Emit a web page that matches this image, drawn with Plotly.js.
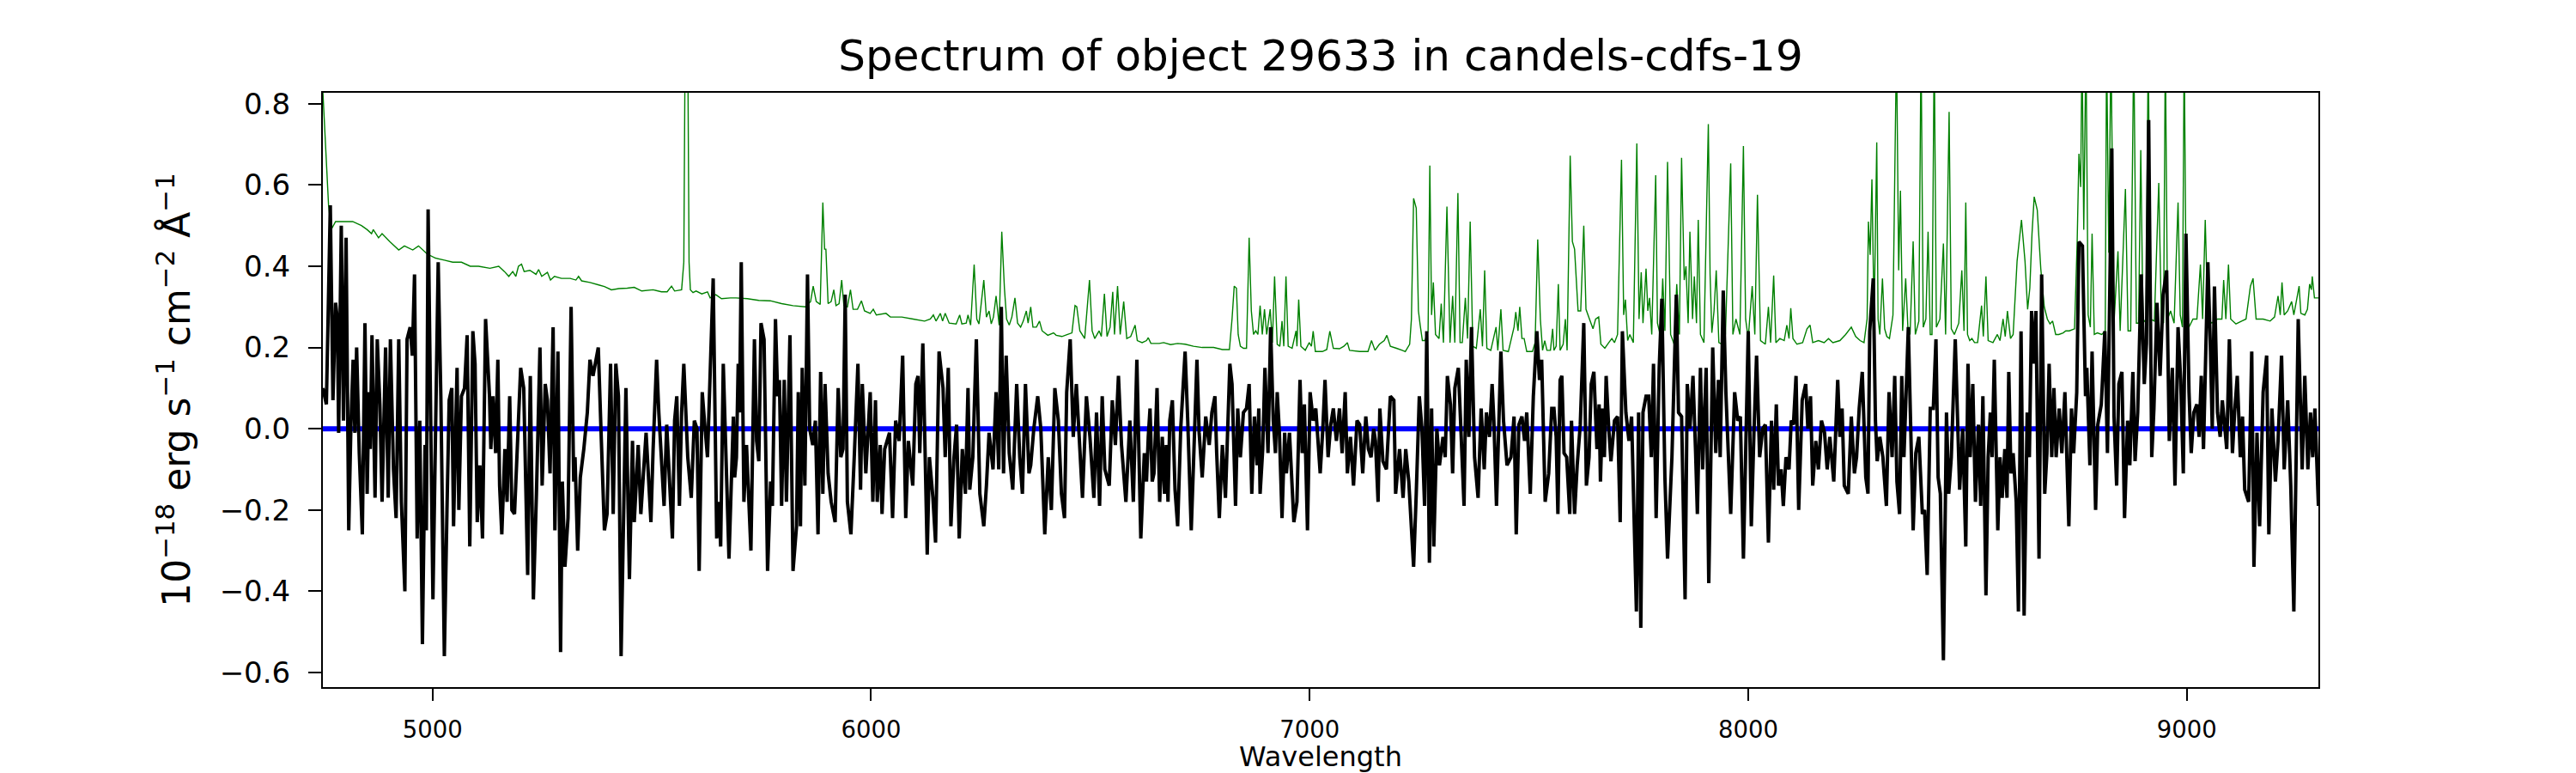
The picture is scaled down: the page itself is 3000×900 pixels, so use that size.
<!DOCTYPE html>
<html>
<head>
<meta charset="utf-8">
<script src="https://cdn.plot.ly/plotly-3.0.1.min.js"></script>
<style>html,body{margin:0;padding:0;background:#fff;}#chart{width:3000px;height:900px;}</style>
</head>
<body>
<div id="chart"></div>
<script>
// ---- Data: [wavelength (Å), flux (1e-18 erg/s/cm2/Å)] ----
const fluxSegA = [[4750,0.10],[4758,0.06],[4767,0.55],[4773,0.07],[4779,0.31],[4783,0.27],[4786,-0.01],[4792,0.50],[4797,0.02],[4803,0.47],[4809,-0.25],[4814,0.01],[4819,0.17],[4823,-0.01],[4827,0.20],[4833,-0.06],[4840,-0.26],[4846,0.26],[4851,-0.16],[4855,0.09],[4858,-0.05],[4862,0.23],[4869,-0.17],[4874,0.22],[4880,0.06],[4885,-0.18],[4893,0.20],[4899,-0.17],[4904,0.22],[4911,-0.10],[4917,-0.22],[4923,0.22],[4929,-0.18],[4937,-0.40],[4942,0.22],[4949,0.25],[4954,0.18],[4959,0.38],[4965,-0.27],[4971,0.02],[4977,-0.53],[4983,-0.04],[4986,-0.25],[4990,0.54],[5001,-0.42],[5013,0.41],[5019,0.08],[5027,-0.56],[5033,-0.20],[5038,0.07],[5044,0.10],[5048,-0.24],[5056,0.15],[5060,-0.20],[5066,0.08],[5073,0.10],[5079,0.23],[5085,-0.29],[5092,0.24],[5097,0.16],[5102,-0.23],[5108,-0.09],[5114,-0.27],[5121,0.27],[5130,0.08],[5133,-0.05],[5138,0.08],[5144,-0.06],[5149,0.17],[5153,-0.14],[5158,-0.26],[5165,-0.05],[5170,-0.18],[5176,0.08],[5181,-0.20],[5187,-0.21],[5201,0.15],[5208,0.10],[5217,-0.36],[5223,0.13],[5230,-0.42],[5237,-0.16],[5245,0.20],[5250,-0.14],[5257,0.11],[5262,0.07],[5268,-0.11],[5275,0.25],[5279,-0.25],[5286,0.19],[5292,-0.55],[5296,-0.13],[5302,-0.34],[5309,-0.22],[5316,0.30],[5322,-0.13],[5325,-0.07],[5331,-0.30],[5337,-0.12],[5345,-0.05],[5353,0.04],[5359,0.17],[5366,0.13],[5378,0.20],[5385,-0.03],[5392,-0.25],[5398,-0.21],[5406,0.16],[5412,-0.21],[5418,0.16],[5424,0.08],[5430,-0.56],[5441,0.10],[5449,-0.37],[5456,-0.03],[5460,-0.23],[5469,-0.04],[5475,-0.21],[5487,-0.01],[5498,-0.23],[5503,-0.05],[5511,0.17],[5516,0.04],[5528,-0.19],[5534,0.01],[5547,-0.27],[5552,0.02],[5557,0.08],[5563,-0.19],[5568,0.04],[5573,0.16],[5582,-0.07],[5590,-0.17],[5597,0.02],[5603,0.00],[5608,-0.35],[5615,0.09],[5620,0.02],[5627,-0.07],[5640,0.37],[5648,-0.27],[5653,-0.18],[5657,-0.29],[5663,0.16],[5676,-0.32]];
const fluxSegB = [[5686,0.03],[5689,-0.12],[5693,-0.07],[5697,0.16],[5700,0.04],[5704,0.41],[5710,-0.18],[5716,-0.04],[5726,-0.30],[5734,0.22],[5739,-0.03],[5744,-0.08],[5749,0.26],[5756,0.22],[5764,-0.35],[5771,-0.13],[5775,-0.19],[5782,0.27],[5787,0.08],[5791,0.12],[5796,-0.19],[5802,0.12],[5807,-0.18],[5815,0.23],[5822,-0.35],[5830,-0.24],[5834,0.09],[5839,-0.24],[5843,0.15],[5849,-0.14],[5855,0.38],[5860,0.00],[5867,-0.04],[5873,0.02],[5879,-0.26],[5885,0.14],[5890,-0.16],[5895,0.11],[5902,-0.11],[5909,-0.18],[5918,-0.23],[5925,0.10],[5931,-0.07],[5936,-0.05],[5941,0.33],[5946,-0.18],[5954,-0.26],[5962,-0.06],[5970,0.16],[5976,-0.15],[5980,0.11],[5988,-0.11],[5998,0.09],[6004,-0.18],[6010,0.07],[6014,-0.18],[6021,-0.04],[6025,-0.21],[6031,-0.05],[6042,-0.01],[6049,-0.22],[6056,0.02],[6064,-0.03],[6072,0.18],[6079,-0.22],[6085,-0.03],[6095,-0.14],[6102,0.11],[6107,0.13],[6111,-0.06],[6118,0.21],[6128,-0.31],[6133,-0.07],[6141,-0.17],[6147,-0.28],[6155,0.19],[6164,0.10],[6169,-0.07],[6176,0.15],[6182,-0.24],[6189,-0.07],[6195,0.01],[6201,-0.27],[6208,-0.05],[6215,-0.16],[6221,0.10],[6225,-0.15],[6232,-0.07],[6240,0.22],[6248,-0.16],[6257,-0.24],[6263,-0.14],[6269,-0.01],[6278,-0.10],[6285,0.09],[6291,-0.10],[6297,0.30],[6302,-0.11],[6308,0.18],[6315,-0.06],[6323,-0.15],[6332,0.11],[6339,-0.07],[6345,-0.16],[6352,0.11],[6360,-0.11],[6364,-0.09],[6371,0.00],[6380,0.08],[6387,0.00],[6396,-0.26],[6404,-0.07],[6411,-0.20],[6419,0.10],[6427,0.02],[6434,-0.16],[6441,-0.22],[6446,0.09],[6454,0.22],[6461,-0.02],[6468,0.11],[6476,-0.05],[6482,-0.17],[6491,0.08],[6499,-0.02],[6508,-0.17],[6514,0.04],[6521,-0.19],[6527,0.08],[6533,-0.10],[6543,-0.14],[6550,0.07],[6557,-0.04],[6564,0.13],[6571,-0.04],[6581,-0.18],[6590,0.02],[6598,-0.18],[6606,0.17],[6615,-0.27]];
const fluxSegC = [[6623,-0.06],[6628,-0.13],[6632,-0.02],[6636,0.05],[6641,-0.13],[6645,-0.11],[6652,0.10],[6658,-0.18],[6664,-0.02],[6669,-0.16],[6673,-0.04],[6677,-0.18],[6681,0.02],[6687,0.07],[6693,-0.15],[6699,-0.24],[6706,0.00],[6716,0.19],[6722,0.02],[6730,-0.25],[6735,-0.09],[6743,0.17],[6748,-0.01],[6755,-0.12],[6763,0.03],[6771,-0.04],[6777,0.04],[6784,0.08],[6788,-0.06],[6794,-0.22],[6801,-0.04],[6808,-0.17],[6818,0.16],[6823,0.11],[6831,-0.19],[6836,0.05],[6842,-0.07],[6849,0.04],[6856,0.05],[6862,0.11],[6868,-0.16],[6874,0.03],[6880,-0.09],[6884,0.05],[6887,-0.16],[6893,-0.05],[6898,0.15],[6905,-0.06],[6911,0.25],[6917,0.02],[6922,-0.06],[6926,0.09],[6931,-0.01],[6937,-0.22],[6943,-0.01],[6947,-0.11],[6954,-0.01],[6964,-0.23],[6971,-0.18],[6978,0.12],[6983,-0.06],[6988,0.06],[6995,-0.25],[7001,0.09],[7008,0.02],[7014,0.05],[7024,-0.11],[7030,0.00],[7035,0.12],[7042,-0.07],[7048,0.01],[7054,0.05],[7061,-0.03],[7068,0.05],[7074,-0.06],[7081,0.09],[7086,-0.11],[7093,-0.02],[7100,-0.14],[7108,0.02],[7114,0.01],[7121,-0.11],[7128,0.03],[7134,-0.05],[7140,-0.07],[7146,0.00],[7150,-0.03],[7156,-0.18],[7160,0.05],[7167,-0.08],[7175,-0.10],[7184,0.08],[7192,0.07],[7196,-0.16],[7205,-0.05],[7213,-0.17],[7219,-0.05],[7226,-0.13],[7237,-0.34],[7243,-0.16],[7250,0.08],[7256,0.00],[7262,-0.19],[7267,0.24],[7273,-0.33],[7278,0.05],[7283,-0.29],[7290,0.00],[7296,-0.09],[7304,-0.02],[7309,-0.07],[7314,0.13],[7321,0.06],[7326,-0.11],[7331,0.10],[7339,0.15],[7344,0.02],[7352,-0.19],[7357,0.17],[7363,-0.02],[7369,0.25],[7376,-0.07],[7384,-0.17],[7391,0.05],[7398,-0.10],[7403,0.04],[7410,-0.02],[7416,0.11],[7420,0.02],[7426,-0.19],[7436,0.19],[7442,0.02],[7450,-0.09],[7459,-0.07],[7466,0.03],[7471,-0.26],[7477,0.01],[7484,0.03],[7490,-0.03],[7495,0.04],[7503,-0.16],[7510,0.08],[7518,0.24],[7524,0.12],[7529,0.17],[7537,-0.18],[7545,-0.11],[7552,0.05]];
const fluxSegD = [[7557,0.05],[7562,-0.02],[7566,-0.21],[7571,0.12],[7575,0.13],[7580,-0.06],[7586,-0.07],[7593,-0.21],[7597,0.02],[7604,-0.21],[7610,-0.09],[7617,0.01],[7625,0.26],[7631,-0.14],[7637,-0.07],[7642,0.11],[7648,0.14],[7655,-0.05],[7660,0.06],[7663,-0.13],[7668,0.05],[7672,-0.07],[7676,0.13],[7682,0.00],[7687,-0.08],[7695,0.02],[7702,0.03],[7708,-0.23],[7713,0.24],[7721,0.04],[7728,-0.03],[7734,0.03],[7745,-0.45],[7750,0.04],[7755,-0.49],[7760,0.04],[7767,0.08],[7773,0.08],[7779,-0.07],[7784,0.16],[7790,-0.22],[7797,0.15],[7803,0.32],[7810,-0.12],[7816,-0.32],[7826,-0.07],[7836,0.33],[7841,0.04],[7848,0.03],[7856,-0.42],[7861,0.11],[7867,0.00],[7874,0.13],[7880,-0.06],[7884,-0.21],[7891,0.15],[7896,-0.10],[7904,0.15],[7910,-0.38],[7919,0.20],[7926,-0.06],[7932,0.12],[7936,-0.07],[7943,0.34],[7949,0.09],[7960,-0.21],[7969,0.09],[7976,0.02],[7982,0.03],[7989,-0.32],[8000,0.24],[8007,-0.24],[8013,-0.01],[8019,0.18],[8026,-0.07],[8033,0.00],[8039,0.01],[8046,-0.28],[8053,0.02],[8058,-0.15],[8064,0.06],[8069,-0.14],[8075,-0.10],[8080,-0.19],[8086,-0.07],[8093,-0.10],[8098,0.02],[8103,0.01],[8109,0.13],[8115,-0.20],[8123,0.07],[8131,0.11],[8136,0.00],[8142,0.08],[8147,-0.14],[8154,-0.03],[8160,-0.10],[8167,0.02],[8174,-0.01],[8180,-0.10],[8186,-0.02],[8195,-0.13],[8204,0.12],[8209,-0.02],[8214,0.05],[8219,-0.14],[8228,-0.16],[8235,0.03],[8242,-0.11],[8247,-0.07],[8253,0.05],[8260,0.14],[8268,-0.12],[8273,-0.16],[8277,0.24],[8285,0.37],[8290,0.02],[8294,-0.08],[8300,-0.02],[8307,-0.07],[8315,-0.19],[8321,0.09],[8328,-0.07],[8334,0.13],[8339,-0.13],[8345,-0.21],[8350,0.13],[8355,-0.07],[8365,0.25],[8376,-0.25],[8382,-0.06],[8389,-0.02],[8397,-0.21],[8402,-0.20],[8408,-0.36],[8415,0.05],[8422,0.05],[8428,0.22],[8433,-0.12],[8438,-0.16],[8445,-0.57],[8452,0.04],[8457,-0.16],[8463,-0.07],[8472,0.22],[8482,-0.15],[8489,0.00],[8496,-0.29]];
const fluxSegE = [[8501,0.16],[8506,-0.07],[8512,0.11],[8518,-0.18],[8525,0.01],[8530,-0.19],[8535,0.08],[8542,-0.41],[8547,-0.07],[8552,0.04],[8556,-0.07],[8561,0.17],[8569,-0.25],[8574,-0.07],[8579,-0.17],[8585,-0.05],[8590,-0.17],[8594,0.14],[8599,-0.11],[8604,-0.06],[8611,-0.18],[8616,-0.45],[8622,0.24],[8629,-0.46],[8636,0.04],[8641,-0.07],[8646,0.29],[8651,0.16],[8656,0.29],[8663,-0.32],[8669,0.38],[8676,-0.16],[8681,-0.06],[8686,0.16],[8692,-0.07],[8697,0.10],[8702,-0.07],[8709,0.05],[8715,-0.06],[8722,0.09],[8731,-0.24],[8737,0.05],[8742,-0.06],[8749,0.09],[8754,0.46],[8762,0.45],[8769,0.08],[8772,0.15],[8779,-0.09],[8784,0.19],[8792,-0.20],[8797,0.01],[8805,0.06],[8813,0.24],[8819,-0.06],[8829,0.69],[8834,0.03],[8840,-0.14],[8845,0.11],[8852,0.14],[8858,-0.22],[8865,0.02],[8870,-0.09],[8877,0.14],[8882,-0.08],[8888,0.04],[8896,0.38],[8903,0.11],[8908,0.21],[8913,0.76],[8920,-0.07],[8925,0.05],[8932,0.31],[8939,0.13],[8946,0.33],[8954,0.39],[8960,-0.03],[8967,0.15],[8973,-0.14],[8980,0.25],[8986,0.12],[8992,-0.11],[8998,0.48],[9005,0.09],[9010,-0.06],[9016,0.04],[9023,0.06],[9028,-0.02],[9033,0.13],[9038,-0.05],[9048,0.41],[9054,0.19],[9058,0.00],[9063,0.35],[9070,0.04],[9076,-0.02],[9081,0.07],[9091,-0.05],[9097,0.22],[9104,-0.06],[9109,0.04],[9115,0.13],[9122,-0.07],[9127,0.03],[9132,-0.15],[9141,-0.18],[9148,0.19],[9153,-0.34],[9160,-0.01],[9166,-0.24],[9174,0.09],[9182,0.18],[9187,-0.26],[9194,0.05],[9202,-0.13],[9208,-0.03],[9216,0.18],[9222,-0.10],[9230,0.07],[9237,-0.14],[9244,-0.45],[9254,0.27],[9263,-0.10],[9269,0.13],[9276,-0.10],[9282,0.04],[9287,-0.07],[9292,0.05],[9300,-0.19]];

// green model / sky spectrum (values above the axis top are clipped by the axis)
const modelSegA = [[4750,0.83],[4763,0.55],[4769,0.49],[4779,0.51],[4799,0.51],[4818,0.51],[4838,0.50],[4851,0.49],[4861,0.48],[4865,0.49],[4877,0.47],[4885,0.48],[4903,0.46],[4923,0.44],[4936,0.45],[4955,0.44],[4968,0.45],[4988,0.43],[5007,0.42],[5027,0.415],[5046,0.41],[5066,0.41],[5086,0.40],[5105,0.40],[5131,0.395],[5151,0.40],[5164,0.387],[5174,0.375],[5183,0.387],[5190,0.375],[5196,0.40],[5203,0.405],[5209,0.387],[5222,0.39],[5236,0.38],[5242,0.392],[5249,0.375],[5262,0.385],[5269,0.366],[5278,0.375],[5294,0.37],[5314,0.37],[5327,0.366],[5333,0.375],[5340,0.364],[5359,0.36],[5379,0.354],[5392,0.35],[5408,0.342],[5425,0.345],[5444,0.346],[5460,0.348],[5477,0.339],[5503,0.342],[5522,0.337],[5535,0.337],[5545,0.351],[5552,0.339],[5568,0.342],[5573,0.41],[5576,0.95],[5582,0.95],[5585,0.41],[5588,0.342],[5594,0.335],[5601,0.339],[5614,0.332],[5627,0.337],[5633,0.322],[5646,0.33],[5659,0.32]];
const modelSegB = [[5679,0.322],[5692,0.322],[5718,0.32],[5744,0.316],[5770,0.315],[5796,0.308],[5822,0.303],[5850,0.30],[5862,0.313],[5868,0.351],[5875,0.313],[5884,0.306],[5890,0.557],[5894,0.442],[5897,0.442],[5902,0.308],[5909,0.313],[5915,0.342],[5920,0.303],[5927,0.308],[5933,0.366],[5938,0.303],[5946,0.30],[5953,0.342],[5959,0.294],[5969,0.294],[5978,0.315],[5985,0.29],[5998,0.284],[6005,0.294],[6012,0.28],[6034,0.284],[6044,0.275],[6070,0.275],[6096,0.27],[6122,0.265],[6135,0.27],[6142,0.28],[6148,0.265],[6158,0.284],[6163,0.265],[6169,0.284],[6178,0.26],[6194,0.258],[6202,0.28],[6207,0.258],[6217,0.26],[6221,0.28],[6227,0.255],[6235,0.404],[6241,0.27],[6246,0.258],[6257,0.366],[6263,0.275],[6269,0.29],[6274,0.258],[6279,0.275],[6285,0.327],[6292,0.255],[6298,0.485],[6304,0.346],[6309,0.27],[6315,0.255],[6321,0.275],[6328,0.322],[6334,0.26],[6341,0.25],[6347,0.265],[6354,0.29],[6358,0.26],[6364,0.30],[6369,0.25],[6377,0.25],[6384,0.265],[6390,0.241],[6403,0.23],[6416,0.236],[6422,0.23],[6435,0.227],[6448,0.232],[6458,0.236],[6465,0.303],[6469,0.30],[6476,0.241],[6487,0.222],[6498,0.366],[6504,0.241],[6510,0.222],[6520,0.241],[6525,0.227],[6532,0.332],[6538,0.227],[6545,0.25],[6551,0.337],[6555,0.232],[6562,0.351],[6568,0.232],[6576,0.313],[6583,0.222],[6592,0.227],[6602,0.255],[6607,0.217]];
const modelSegC = [[6618,0.212],[6628,0.217],[6632,0.224],[6638,0.21],[6657,0.21],[6667,0.212],[6683,0.207],[6699,0.21],[6716,0.208],[6735,0.203],[6755,0.20],[6781,0.20],[6801,0.195],[6817,0.195],[6823,0.27],[6828,0.351],[6833,0.346],[6837,0.232],[6842,0.203],[6849,0.198],[6856,0.198],[6862,0.47],[6867,0.29],[6872,0.232],[6877,0.241],[6882,0.232],[6887,0.303],[6892,0.232],[6897,0.294],[6902,0.232],[6910,0.294],[6915,0.212],[6920,0.375],[6926,0.208],[6932,0.203],[6937,0.265],[6941,0.203],[6946,0.375],[6951,0.203],[6960,0.198],[6969,0.241],[6971,0.203],[6975,0.318],[6980,0.203],[6990,0.193],[6999,0.212],[7004,0.203],[7008,0.24],[7013,0.19],[7029,0.19],[7039,0.195],[7046,0.24],[7054,0.198],[7068,0.197],[7078,0.203],[7086,0.212],[7091,0.193],[7114,0.19],[7133,0.19],[7141,0.217],[7149,0.193],[7159,0.208],[7170,0.217],[7176,0.23],[7184,0.203],[7198,0.198],[7211,0.193],[7218,0.19],[7228,0.208],[7232,0.27],[7237,0.567],[7243,0.543],[7248,0.29],[7252,0.255],[7257,0.217],[7263,0.217],[7270,0.241],[7274,0.648],[7278,0.28],[7282,0.36],[7287,0.232],[7295,0.222],[7300,0.308],[7305,0.212],[7313,0.547],[7320,0.212],[7326,0.327],[7331,0.212],[7338,0.58],[7343,0.212],[7348,0.212],[7355,0.322],[7360,0.222],[7366,0.51],[7372,0.203],[7380,0.198],[7389,0.294],[7394,0.203],[7399,0.39],[7404,0.198],[7413,0.193],[7425,0.25],[7429,0.193],[7436,0.294],[7441,0.193],[7453,0.19],[7466,0.25],[7470,0.287],[7475,0.241],[7479,0.30],[7484,0.222],[7489,0.222],[7495,0.19],[7508,0.19],[7514,0.212],[7520,0.466],[7526,0.27],[7531,0.193],[7536,0.217],[7541,0.193],[7549,0.193],[7554,0.246]];
const modelSegD = [[7557,0.193],[7562,0.203],[7567,0.356],[7571,0.193],[7578,0.208],[7583,0.27],[7587,0.193],[7594,0.672],[7599,0.461],[7604,0.442],[7612,0.29],[7618,0.29],[7625,0.50],[7630,0.294],[7638,0.27],[7646,0.246],[7652,0.27],[7659,0.275],[7664,0.208],[7673,0.198],[7682,0.212],[7689,0.222],[7695,0.212],[7702,0.232],[7711,0.662],[7716,0.28],[7720,0.318],[7725,0.217],[7730,0.232],[7738,0.212],[7746,0.702],[7751,0.27],[7756,0.385],[7760,0.26],[7767,0.394],[7771,0.29],[7775,0.322],[7780,0.232],[7789,0.624],[7793,0.26],[7800,0.227],[7805,0.37],[7810,0.241],[7816,0.657],[7823,0.232],[7831,0.208],[7837,0.356],[7843,0.232],[7848,0.667],[7854,0.366],[7858,0.40],[7863,0.26],[7867,0.485],[7873,0.27],[7877,0.375],[7882,0.26],[7886,0.514],[7891,0.232],[7899,0.212],[7909,0.75],[7913,0.38],[7917,0.236],[7922,0.29],[7927,0.39],[7933,0.212],[7940,0.208],[7948,0.232],[7960,0.653],[7965,0.232],[7972,0.27],[7981,0.232],[7989,0.696],[7994,0.27],[8000,0.222],[8009,0.351],[8015,0.232],[8021,0.576],[8028,0.217],[8039,0.208],[8046,0.30],[8051,0.212],[8058,0.377],[8063,0.212],[8072,0.222],[8082,0.217],[8088,0.255],[8093,0.222],[8097,0.297],[8102,0.222],[8111,0.208],[8124,0.212],[8134,0.246],[8141,0.255],[8147,0.212],[8160,0.217],[8173,0.212],[8183,0.222],[8193,0.212],[8209,0.217],[8222,0.232],[8235,0.25],[8245,0.227],[8255,0.217],[8264,0.212],[8271,0.27],[8274,0.51],[8278,0.428],[8282,0.614],[8287,0.27],[8293,0.705],[8296,0.27],[8300,0.232],[8306,0.37],[8311,0.246],[8316,0.227],[8322,0.222],[8330,0.28],[8338,0.95],[8343,0.39],[8347,0.586],[8352,0.241],[8359,0.37],[8364,0.25],[8369,0.232],[8376,0.461],[8381,0.232],[8389,0.265],[8394,0.95],[8399,0.25],[8405,0.27],[8410,0.485],[8415,0.232],[8419,0.232],[8424,0.95],[8429,0.25],[8437,0.27],[8445,0.456],[8450,0.232],[8458,0.78],[8463,0.246],[8470,0.232],[8480,0.26],[8487,0.39],[8492,0.241]];
const modelSegE = [[8496,0.557],[8500,0.232],[8505,0.217],[8510,0.222],[8516,0.212],[8523,0.212],[8532,0.303],[8536,0.227],[8542,0.375],[8547,0.217],[8558,0.212],[8568,0.232],[8574,0.217],[8581,0.27],[8586,0.227],[8591,0.29],[8598,0.222],[8604,0.232],[8613,0.413],[8623,0.514],[8631,0.413],[8637,0.294],[8642,0.346],[8647,0.48],[8652,0.571],[8659,0.538],[8667,0.394],[8675,0.30],[8682,0.27],[8688,0.258],[8694,0.265],[8701,0.232],[8708,0.232],[8718,0.236],[8724,0.241],[8732,0.241],[8744,0.246],[8750,0.461],[8754,0.677],[8758,0.595],[8761,0.95],[8765,0.49],[8770,0.95],[8775,0.28],[8780,0.25],[8784,0.48],[8789,0.232],[8796,0.236],[8806,0.232],[8814,0.241],[8817,0.95],[8822,0.433],[8827,0.95],[8834,0.26],[8843,0.437],[8848,0.241],[8860,0.59],[8866,0.241],[8872,0.241],[8879,0.95],[8885,0.26],[8890,0.26],[8895,0.686],[8900,0.27],[8907,0.26],[8912,0.95],[8917,0.27],[8926,0.265],[8936,0.605],[8942,0.27],[8947,0.26],[8951,0.95],[8956,0.27],[8963,0.29],[8971,0.26],[8980,0.557],[8985,0.28],[8990,0.25],[8994,0.95],[8999,0.25],[9005,0.25],[9014,0.27],[9023,0.27],[9031,0.404],[9036,0.27],[9042,0.514],[9048,0.27],[9057,0.26],[9070,0.27],[9080,0.27],[9084,0.366],[9089,0.27],[9095,0.404],[9100,0.27],[9112,0.258],[9125,0.265],[9135,0.27],[9145,0.351],[9151,0.37],[9158,0.27],[9174,0.27],[9190,0.265],[9200,0.275],[9208,0.327],[9213,0.28],[9217,0.36],[9222,0.28],[9230,0.29],[9239,0.313],[9244,0.28],[9256,0.351],[9260,0.284],[9269,0.28],[9275,0.294],[9280,0.356],[9284,0.342],[9286,0.375],[9291,0.322],[9300,0.322]];

// flat zero (blue) line
const zeroWave = [4750, 9300];
const zeroFlux = [0, 0];

// axis ticks
const xTickVals = [5000, 6000, 7000, 8000, 9000];
const yTickVals = [-0.6, -0.4, -0.2, 0.0, 0.2, 0.4, 0.6, 0.8];
const xRange = [4750, 9300];
const yRange = [-0.636, 0.827];

const titleText = 'Spectrum of object 29633 in candels-cdfs-19';
const xTitleText = 'Wavelength';
const yTitleText = '10<sup>\u221218</sup> erg s<sup>\u22121</sup> cm<sup>\u22122</sup> \u00c5<sup>\u22121</sup>';

// ---- build traces ----
const fluxAll = [].concat(fluxSegA, fluxSegB, fluxSegC, fluxSegD, fluxSegE);
const modelAll = [].concat(modelSegA, modelSegB, modelSegC, modelSegD, modelSegE);

const FONT = 'DejaVu Sans, Liberation Sans, sans-serif';

const traces = [
  {x: modelAll.map(p => p[0]), y: modelAll.map(p => p[1]), type: 'scatter', mode: 'lines',
   line: {color: '#008000', width: 1.4, simplify: false}, hoverinfo: 'skip', showlegend: false},
  {x: zeroWave, y: zeroFlux, type: 'scatter', mode: 'lines',
   line: {color: '#0000ff', width: 6}, hoverinfo: 'skip', showlegend: false},
  {x: fluxAll.map(p => p[0]), y: fluxAll.map(p => p[1]), type: 'scatter', mode: 'lines',
   line: {color: '#000000', width: 4, simplify: false}, hoverinfo: 'skip', showlegend: false}
];

const layout = {
  width: 3000, height: 900,
  margin: {l: 376, r: 300, t: 108, b: 100, pad: 0},
  paper_bgcolor: '#ffffff', plot_bgcolor: '#ffffff',
  font: {family: FONT, color: '#000000'},
  showlegend: false,
  title: {text: titleText, font: {family: FONT, size: 50, color: '#000'},
          x: 0.5, xref: 'paper', xanchor: 'center', y: 1 - 64/900, yref: 'container', yanchor: 'middle'},
  xaxis: {
    range: xRange, tickmode: 'array', tickvals: xTickVals, tickformat: 'd',
    ticks: 'outside', ticklen: 14, tickwidth: 2, tickcolor: '#000',
    tickfont: {family: FONT, size: 27.5, color: '#000'}, ticklabelstandoff: 10,
    showline: true, linecolor: '#000', linewidth: 2, mirror: true,
    showgrid: false, zeroline: false,
    title: {text: xTitleText, font: {family: FONT, size: 32, color: '#000'}, standoff: 4}
  },
  yaxis: {
    range: yRange, tickmode: 'array', tickvals: yTickVals, tickformat: '.1f',
    ticks: 'outside', ticklen: 15, tickwidth: 2, tickcolor: '#000',
    tickfont: {family: FONT, size: 34, color: '#000'}, ticklabelstandoff: 14,
    showline: true, linecolor: '#000', linewidth: 2, mirror: true,
    showgrid: false, zeroline: false,
    title: {text: yTitleText, font: {family: FONT, size: 44, color: '#000'}, standoff: 20}
  }
};

Plotly.newPlot('chart', traces, layout, {staticPlot: true, displayModeBar: false});
</script>
</body>
</html>
